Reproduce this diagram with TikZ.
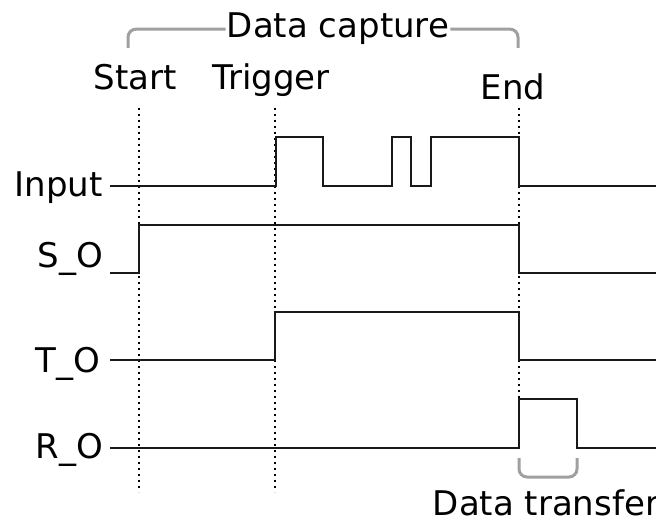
\documentclass[tikz,border=0pt]{standalone}
\usepackage{fontspec}
\setmainfont{DejaVu Sans}
\usepackage{tikz}
\usetikzlibrary{positioning,calc}
\usepackage{xcolor}
\definecolor{bracegray}{HTML}{A0A0A0}

\begin{document}
\begin{tikzpicture}[x=1pt,y=-1pt,every node/.style={font=\fontsize{34}{40}\selectfont,inner sep=0pt},
  sig/.style={black!90,line width=1.6pt},
  eventline/.style={black,line width=1.8pt,dash pattern=on 1.8pt off 4.2pt},
  brace/.style={bracegray,line width=3pt,rounded corners=8pt}]
\useasboundingbox (0,0) rectangle (656,516);
\clip (0,0) rectangle (656,516);
% event markers
\draw[eventline] (139,108) -- (139,492);
\draw[eventline] (275,108) -- (275,492);
\draw[eventline] (519,108) -- (519,399);
\node[anchor=base] (startlbl) at (135,90) {Start};
\node[anchor=base] (triglbl) at (271,90) {Trigger};
\node[anchor=base] (endlbl) at (513,100) {End};
% capture window
\node[anchor=base,inner xsep=1pt] (capture) at (338,38) {Data capture};
\draw[brace] (128,48) |- (capture.west);
\draw[brace] (capture.east) -| (518,48);
% signals
\node[anchor=base east] (inlbl) at (103,196) {Input};
\draw[sig] (110,186) -- (276,186) -- (276,137) -- (323,137) -- (323,186) -- (392,186) -- (392,137)
  -- (411,137) -- (411,186) -- (431,186) -- (431,137) -- (519,137) -- (519,186) -- (656,186);
\node[anchor=base east] (solbl) at (103,267) {S\_O};
\draw[sig] (110,273) -- (139,273) -- (139,225) -- (519,225) -- (519,273) -- (656,273);
\node[anchor=base east] (tolbl) at (100,372) {T\_O};
\draw[sig] (110,360) -- (275,360) -- (275,312) -- (519,312) -- (519,360) -- (656,360);
\node[anchor=base east] (rolbl) at (103,458) {R\_O};
\draw[sig] (110,448) -- (519,448) -- (519,399) -- (577,399) -- (577,448) -- (656,448);
% transfer window
\draw[brace] (519,458) |- (548,477) -| (577,458);
\node[anchor=base] (xferlbl) at (546,515) {Data transfer};
\end{tikzpicture}
\end{document}
